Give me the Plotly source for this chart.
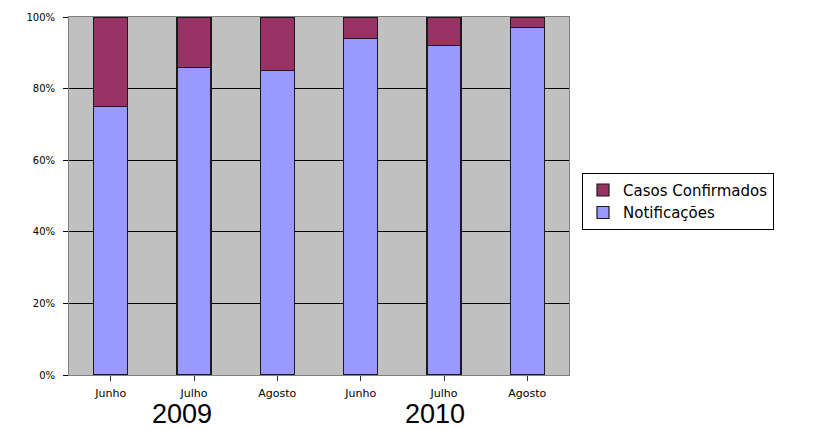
import plotly.graph_objects as go

months = ["Junho", "Julho", "Agosto", "Junho", "Julho", "Agosto"]
years = ["2009", "2010"]
notificacoes = [75, 86, 85, 94, 92, 97]
casos_confirmados = [25, 14, 15, 6, 8, 3]

pos = list(range(len(months)))

fig = go.Figure()
fig.add_trace(go.Bar(
    x=pos, y=notificacoes, name="Notificações",
    marker=dict(color="#9999FF", line=dict(color="#1a1a1a", width=1.2)),
    width=0.41,
))
fig.add_trace(go.Bar(
    x=pos, y=casos_confirmados, name="Casos Confirmados",
    marker=dict(color="#993366", line=dict(color="#1a1a1a", width=1.2)),
    width=0.41,
))

fig.update_layout(
    barmode="stack",
    width=821, height=430,
    margin=dict(l=69, r=252, t=17, b=55),
    paper_bgcolor="white",
    plot_bgcolor="#C0C0C0",
    font=dict(family="Liberation Sans, Arial, sans-serif", color="black"),
    showlegend=True,
    legend=dict(
        x=1.026, y=0.565, xanchor="left", yanchor="top",
        traceorder="reversed",
        bgcolor="white", bordercolor="black", borderwidth=1,
        font=dict(size=15, color="black", family="DejaVu Sans, sans-serif"),
        itemwidth=30,
        tracegroupgap=0,
    ),
)

fig.update_xaxes(
    range=[-0.5, 5.5],
    tickvals=pos, ticktext=months,
    tickson="boundaries",
    ticks="outside", ticklen=5, tickcolor="#333333",
    ticklabelstandoff=3,
    showline=True, linecolor="#808080", linewidth=1, mirror=True,
    showgrid=False,
    tickfont=dict(size=11, color="black", family="DejaVu Sans, sans-serif"),
    fixedrange=True,
)
fig.update_yaxes(
    range=[0, 100],
    tickvals=[0, 20, 40, 60, 80, 100],
    ticktext=["0%", "20%", "40%", "60%", "80%", "100%"],
    ticks="outside", ticklen=5, tickcolor="black",
    ticklabelstandoff=6,
    showgrid=True, gridcolor="black", gridwidth=1,
    showline=True, linecolor="#808080", linewidth=1, mirror=True,
    zeroline=False,
    tickfont=dict(size=10, color="black", family="DejaVu Sans, sans-serif"),
    fixedrange=True,
)

year_x = [0.226, 0.732]
for yr, xp in zip(years, year_x):
    fig.add_annotation(
        text=yr, x=xp, y=-0.11, xref="paper", yref="paper",
        xanchor="center", yanchor="middle", showarrow=False,
        font=dict(size=27, color="black", family="Liberation Sans, Arial, sans-serif"),
    )

fig.write_html("out.html")
